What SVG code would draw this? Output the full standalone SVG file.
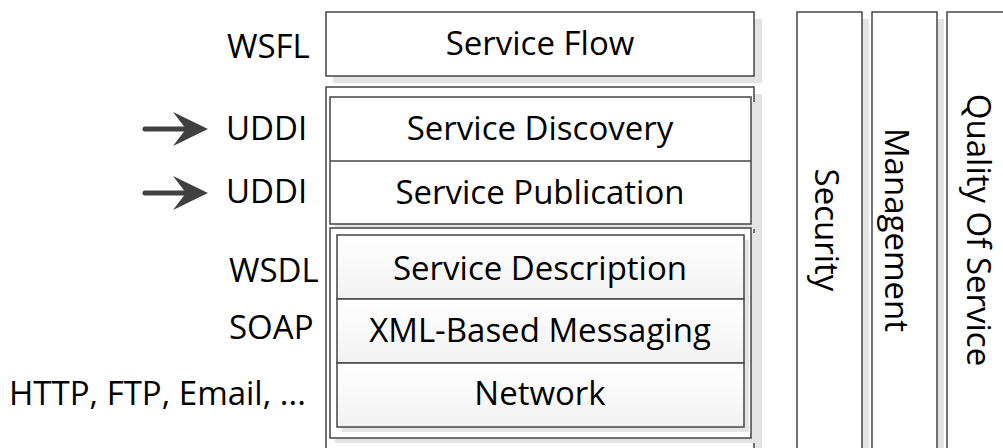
<svg xmlns="http://www.w3.org/2000/svg" width="1003" height="448" viewBox="0 0 1003 448">
  <defs>
    <linearGradient id="rowFill" x1="0" y1="0" x2="0" y2="1">
      <stop offset="0" stop-color="#ffffff"/>
      <stop offset="1" stop-color="#f2f2f2"/>
    </linearGradient>
    <style>
      .box { fill: #ffffff; stroke: #444444; stroke-width: 1.5; }
      .row { fill: url(#rowFill); stroke: #444444; stroke-width: 1.5; }
      .shadow { fill: #e4e4e4; }
      .lbl { font-family: "Open Sans", "Liberation Sans", sans-serif; font-size: 33px; fill: #000000; }
      .mid { text-anchor: middle; }
      .arrow-line { stroke: #404040; stroke-width: 5; stroke-linecap: round; fill: none; }
      .arrow-head { fill: #404040; }
    </style>
  </defs>

  <rect width="1003" height="448" fill="#ffffff"/>

  <!-- Top layer: service flow -->
  <g id="service-flow">
    <rect class="shadow" x="333" y="19" width="429" height="64"/>
    <rect class="box" x="326" y="12" width="428" height="64"/>
    <text class="lbl mid" x="540" y="55">Service Flow</text>
  </g>

  <!-- Main stack frame -->
  <g id="stack-frame">
    <rect class="shadow" x="333" y="94" width="429" height="370"/>
    <rect class="box" x="326" y="87" width="428" height="370"/>
  </g>

  <!-- Discovery / publication block -->
  <g id="registry-block">
    <rect class="shadow" x="335" y="102" width="421" height="127"/>
    <rect class="box" x="330" y="97" width="421" height="127"/>
    <line x1="330" y1="161" x2="751" y2="161" stroke="#444444" stroke-width="1.5"/>
  </g>
  <g id="service-discovery">
    <text class="lbl mid" x="540" y="140">Service Discovery</text>
  </g>
  <g id="service-publication">
    <text class="lbl mid" x="540" y="204">Service Publication</text>
  </g>

  <!-- Description / messaging / network block -->
  <g id="core-block">
    <rect class="shadow" x="335" y="233" width="421" height="210"/>
    <rect class="box" x="330" y="228" width="421" height="210"/>
    <rect class="shadow" x="342" y="240" width="407" height="192"/>
  </g>
  <g id="service-description">
    <rect class="row" x="337" y="235" width="407" height="64"/>
    <text class="lbl mid" x="540" y="280">Service Description</text>
  </g>
  <g id="xml-messaging">
    <rect class="row" x="337" y="299" width="407" height="64"/>
    <text class="lbl mid" x="540" y="342">XML-Based Messaging</text>
  </g>
  <g id="network">
    <rect class="row" x="337" y="363" width="407" height="64"/>
    <text class="lbl mid" x="540" y="405">Network</text>
  </g>

  <!-- Cross-cutting columns -->
  <g id="security">
    <rect class="shadow" x="804" y="19" width="65" height="440"/>
    <rect class="box" x="797" y="12" width="65" height="450"/>
    <text class="lbl mid" transform="translate(815,230) rotate(90)">Security</text>
  </g>
  <g id="management">
    <rect class="shadow" x="879" y="19" width="65" height="440"/>
    <rect class="box" x="872" y="12" width="65" height="450"/>
    <text class="lbl mid" transform="translate(885,230) rotate(90)">Management</text>
  </g>
  <g id="quality-of-service">
    <rect class="shadow" x="954" y="19" width="70" height="440"/>
    <rect class="box" x="947" y="12" width="70" height="450"/>
    <text class="lbl mid" transform="translate(967,230) rotate(90)">Quality Of Service</text>
  </g>

  <!-- Protocol labels -->
  <g id="labels">
    <text class="lbl" x="227" y="58">WSFL</text>
    <text class="lbl" x="226" y="140">UDDI</text>
    <text class="lbl" x="226" y="203">UDDI</text>
    <text class="lbl" x="229" y="282">WSDL</text>
    <text class="lbl" x="229" y="339">SOAP</text>
    <text class="lbl" x="9" y="405">HTTP, FTP, Email, ...</text>
  </g>

  <!-- Pointer arrows -->
  <g id="connectors">
    <line class="arrow-line" x1="145" y1="129" x2="188" y2="129"/>
    <polygon class="arrow-head" points="208,129 173,112 186,129 173,146"/>
    <line class="arrow-line" x1="145" y1="193" x2="188" y2="193"/>
    <polygon class="arrow-head" points="208,193 173,176 186,193 173,210"/>
  </g>
</svg>
